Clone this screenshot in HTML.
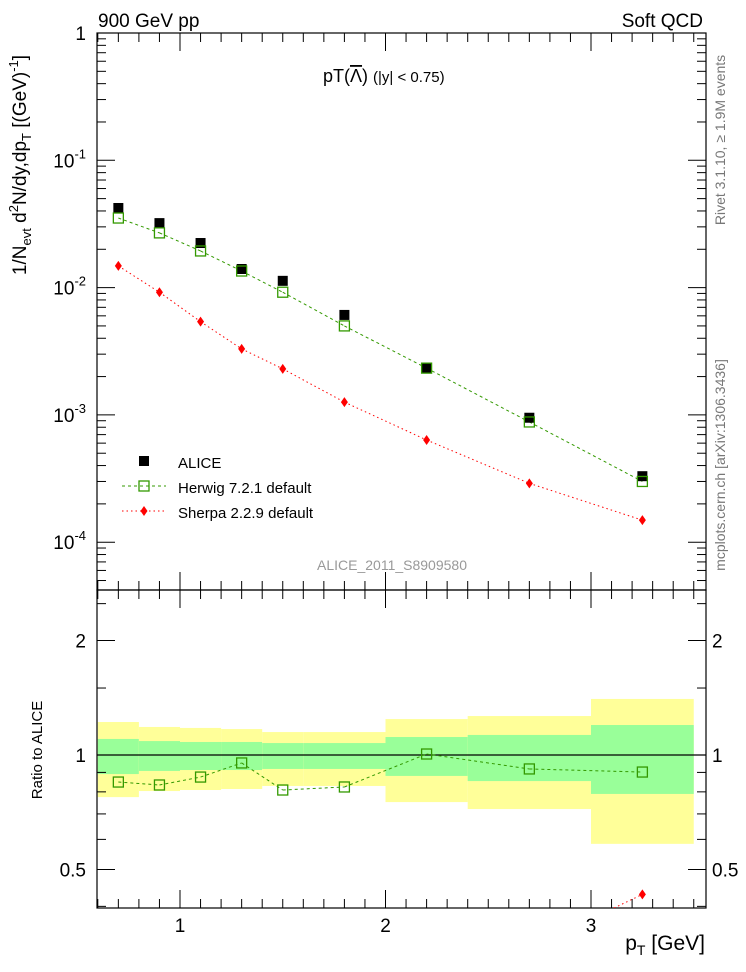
<!DOCTYPE html>
<html><head><meta charset="utf-8"><style>
html,body{margin:0;padding:0;background:#fff;overflow:hidden;width:746px;height:972px}
svg{display:block;font-family:"Liberation Sans",sans-serif}
</style></head><body>
<svg id="c" width="746" height="972" viewBox="0 0 746 972">
 <text x="98" y="27" font-size="19">900 GeV pp</text>
 <text x="703" y="27" font-size="19" text-anchor="end">Soft QCD</text>
 <text x="323" y="82" font-size="18">pT(<tspan text-decoration="overline">Λ</tspan>) <tspan font-size="15">(|y| &lt; 0.75)</tspan></text>
 <text x="317" y="570" font-size="14" fill="#999">ALICE_2011_S8909580</text>
 <text x="705" y="950" font-size="21" text-anchor="end">p<tspan font-size="14" dy="5">T</tspan><tspan dy="-5"> [GeV]</tspan></text>
 <text transform="translate(26,165) rotate(-90)" font-size="19" text-anchor="middle">1/N<tspan font-size="13" dy="5">evt</tspan><tspan dy="-5"> d</tspan><tspan font-size="13" dy="-8">2</tspan><tspan dy="8">N/dy,dp</tspan><tspan font-size="13" dy="5">T</tspan><tspan dy="-5"> [(GeV)</tspan><tspan font-size="13" dy="-8">-1</tspan><tspan dy="8">]</tspan></text>
 <text transform="translate(42,750) rotate(-90)" font-size="15" text-anchor="middle">Ratio to ALICE</text>
 <text transform="translate(725,140) rotate(-90)" font-size="14" fill="#777" text-anchor="middle">Rivet 3.1.10, ≥ 1.9M events</text>
 <text transform="translate(725,465) rotate(-90)" font-size="14" fill="#777" text-anchor="middle">mcplots.cern.ch [arXiv:1306.3436]</text>
</svg>
<script>
const xs=[0.7,0.9,1.1,1.3,1.5,1.8,2.2,2.7,3.25];
const alice=[0.0422,0.0321,0.0224,0.0140,0.0113,0.0061,0.00233,0.00095,0.00033];
const herwig=[0.0352,0.0269,0.0194,0.0135,0.0092,0.0050,0.00233,0.00088,0.00030];
const sherpa=[0.0148,0.0092,0.0054,0.0033,0.0023,0.00126,0.000635,0.00029,0.000149];
const herwigRatio=[0.849,0.834,0.875,0.953,0.809,0.824,1.006,0.919,0.902];
const sherpaRatio=[0.35,0.29,0.24,0.24,0.20,0.21,0.27,0.31,0.43];
const binEdges=[0.6,0.8,1.0,1.2,1.4,1.6,2.0,2.4,3.0,3.5];
const yelLo=[0.775,0.804,0.809,0.814,0.829,0.829,0.752,0.721,0.584];
const yelHi=[1.221,1.185,1.178,1.170,1.149,1.149,1.243,1.266,1.404];
const grnLo=[0.891,0.908,0.913,0.913,0.919,0.919,0.881,0.854,0.790];
const grnHi=[1.102,1.088,1.082,1.082,1.075,1.075,1.115,1.129,1.199];
const xTicks=[1,2,3];
const mainTicks=[1,0.1,0.01,0.001,0.0001];
const ratioTicks=[0.5,1,2];

const L=97,R=706,T=33,M=590,B=908;
const X=v=>180+(v-1)*205.5;
const Y=v=>33+(-Math.log10(v))*127.3;
const YR=v=>755-Math.log2(v)*114.5;
const svg=document.getElementById('c');
const NS='http://www.w3.org/2000/svg';
function mk(t,a,p){const e=document.createElementNS(NS,t);for(const k in a)e.setAttribute(k,a[k]);(p||svg).appendChild(e);return e;}
function txt(s,a){const e=mk('text',a);e.textContent=s;return e;}

const clipR=mk('clipPath',{id:'cr'});mk('rect',{x:L,y:M,width:R-L,height:B-M},clipR);
const clipM=mk('clipPath',{id:'cm'});mk('rect',{x:L,y:T,width:R-L,height:M-T},clipM);
const gb=mk('g',{'clip-path':'url(#cr)'});
for(let i=0;i<yelLo.length;i++){
 const x0=X(binEdges[i]),x1=X(binEdges[i+1]);
 let r=mk('rect',{x:x0,y:YR(yelHi[i]),width:x1-x0,height:YR(yelLo[i])-YR(yelHi[i]),fill:'#ffff99'},gb);
 
 
 r=mk('rect',{x:x0,y:YR(grnHi[i]),width:x1-x0,height:YR(grnLo[i])-YR(grnHi[i]),fill:'#99ff99'},gb);
 
 
}
mk('line',{x1:L,x2:R,y1:YR(1),y2:YR(1),stroke:'#000','stroke-width':1.2},gb);

let f=mk('rect',{x:L,y:T,width:R-L,height:M-T,fill:'none',stroke:'#000','stroke-width':1.2});

f=mk('rect',{x:L,y:M,width:R-L,height:B-M,fill:'none',stroke:'#000','stroke-width':1.2});


for(let v=0.6;v<=3.55;v+=0.1){
 const vv=Math.round(v*10)/10;const x=X(vv);if(x>R)continue;const maj=Math.abs(vv-Math.round(vv))<1e-6;const h=maj?18:9;
 mk('line',{x1:x,x2:x,y1:B,y2:B-h,stroke:'#000'});mk('line',{x1:x,x2:x,y1:M,y2:M-h,stroke:'#000'});
 mk('line',{x1:x,x2:x,y1:M,y2:M+h,stroke:'#000'});mk('line',{x1:x,x2:x,y1:T,y2:T+h,stroke:'#000'});
}
xTicks.forEach(v=>{const t=txt(String(v),{x:X(v),y:932,'font-size':19,'text-anchor':'middle'});
 });
for(let d=0;d>=-5;d--){for(let m=1;m<10;m++){const v=m*Math.pow(10,d);const y=Y(v);if(y<T||y>M)continue;const h=m==1?18:9;
 mk('line',{x1:L,x2:L+h,y1:y,y2:y,stroke:'#000'});mk('line',{x1:R,x2:R-h,y1:y,y2:y,stroke:'#000'});}}
mainTicks.forEach(v=>{const y=Y(v);const e=Math.round(Math.log10(v));
 const t=mk('text',{x:86,y:y+7,'font-size':19,'text-anchor':'end'});
 
 if(e==0)t.textContent='1';else{t.textContent='10';const s=mk('tspan',{dy:-9,'font-size':13},t);s.textContent=String(e);}});
[0.4,0.5,0.6,0.7,0.8,0.9,1,1.5,2,2.5].forEach(v=>{const y=YR(v);const h=(v==0.5||v==1||v==2)?18:9;
 mk('line',{x1:L,x2:L+h,y1:y,y2:y,stroke:'#000'});mk('line',{x1:R,x2:R-h,y1:y,y2:y,stroke:'#000'});});
ratioTicks.forEach(v=>{const y=YR(v)+7;
 let t=txt(String(v),{x:86,y,'font-size':19,'text-anchor':'end'});
 t=txt(String(v),{x:712,y,'font-size':19});});

// polyline with segments clipped to [top,bot]
function line(vals,yf,col,dash,g,top,bot){
 for(let i=0;i<xs.length-1;i++){
  let x1=X(xs[i]),y1=yf(vals[i]),x2=X(xs[i+1]),y2=yf(vals[i+1]);
  if((y1>bot&&y2>bot)||(y1<top&&y2<top))continue;
  const cl=(xa,ya,xb,yb)=>{if(ya>bot){const t=(bot-ya)/(yb-ya);return[xa+t*(xb-xa),bot];}if(ya<top){const t=(top-ya)/(yb-ya);return[xa+t*(xb-xa),top];}return[xa,ya];};
  const p1=cl(x1,y1,x2,y2),p2=cl(x2,y2,x1,y1);
  mk('line',{x1:p1[0],y1:p1[1],x2:p2[0],y2:p2[1],stroke:col,'stroke-width':1,'stroke-dasharray':dash},g);
 }
}
const gm=mk('g',{'clip-path':'url(#cm)'});
line(herwig,Y,'#339900','3,3',gm,T,M);line(sherpa,Y,'#ff0000','1.5,3',gm,T,M);
xs.forEach((x,i)=>{
 let r=mk('rect',{x:X(x)-5,y:Y(alice[i])-5,width:10,height:10,fill:'#000'},gm);
 
 r=mk('rect',{x:X(x)-5,y:Y(herwig[i])-5,width:10,height:10,fill:'none',stroke:'#339900','stroke-width':1.3},gm);
 
 const sx=X(x),sy=Y(sherpa[i]);
 r=mk('polygon',{points:`${sx},${sy-5} ${sx+3.5},${sy} ${sx},${sy+5} ${sx-3.5},${sy}`,fill:'#ff0000'},gm);
 
});
const gr=mk('g',{'clip-path':'url(#cr)'});
line(herwigRatio,YR,'#339900','3,3',gr,M,B);line(sherpaRatio,YR,'#ff0000','1.5,3',gr,M,B);
xs.forEach((x,i)=>{
 let r=mk('rect',{x:X(x)-5,y:YR(herwigRatio[i])-5,width:10,height:10,fill:'none',stroke:'#339900','stroke-width':1.3},gr);
 
 const sx=X(x),sy=YR(sherpaRatio[i]);
 if(sy>B+5||sy<M-5)return;
 r=mk('polygon',{points:`${sx},${sy-5} ${sx+3.5},${sy} ${sx},${sy+5} ${sx-3.5},${sy}`,fill:'#ff0000'},gr);
 
});

let lg=mk('g',{});
mk('rect',{x:139,y:456,width:10,height:10,fill:'#000'},lg);
mk('line',{x1:122,x2:166,y1:486,y2:486,stroke:'#339900','stroke-dasharray':'3,3'},lg);
mk('rect',{x:139,y:481,width:10,height:10,fill:'none',stroke:'#339900','stroke-width':1.3},lg);
mk('line',{x1:122,x2:166,y1:511,y2:511,stroke:'#ff0000','stroke-dasharray':'1.5,3'},lg);
mk('polygon',{points:'144,506 147.5,511 144,516 140.5,511',fill:'#ff0000'},lg);
[['ALICE',468],['Herwig 7.2.1 default',493],['Sherpa 2.2.9 default',518]].forEach(a=>{
 const t=txt(a[0],{x:178,y:a[1],'font-size':15});});
</script>
</body></html>
